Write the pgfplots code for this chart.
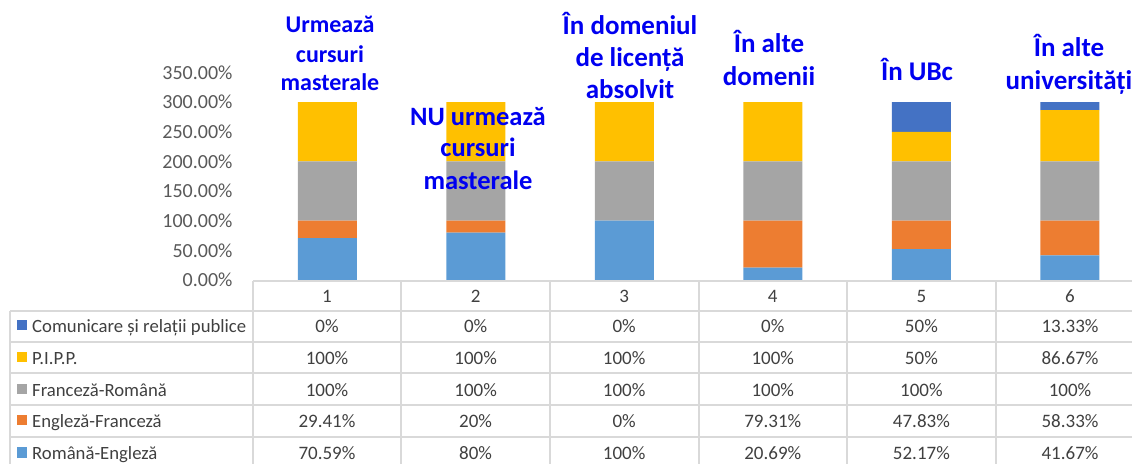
\documentclass[border=0pt]{standalone}
\usepackage{fontspec}
\setmainfont{Carlito}
\usepackage{pgfplots}
\pgfplotsset{compat=1.18}
\definecolor{cRE}{HTML}{5B9BD5}
\definecolor{cEF}{HTML}{ED7D31}
\definecolor{cFR}{HTML}{A5A5A5}
\definecolor{cPIPP}{HTML}{FFC000}
\definecolor{cCOM}{HTML}{4472C4}
\definecolor{annblue}{RGB}{0,0,240}
\definecolor{gridc}{HTML}{D9D9D9}
\definecolor{txt}{HTML}{404040}
\definecolor{tickc}{HTML}{595959}
\newcommand\tabfont{\fontsize{19}{22}\selectfont}
\newcommand\annfont[1]{\fontsize{#1}{#1}\selectfont\bfseries}

\begin{document}
\begin{tikzpicture}
\useasboundingbox (0pt,0pt) rectangle (1132pt,463pt);

\begin{axis}[
  at={(253pt,183pt)}, anchor=south west,
  scale only axis, width=891pt, height=207.5pt,
  xmin=0.5, xmax=6.5, ymin=0, ymax=350,
  ybar stacked, bar width=59pt,
  axis line style={draw=none},
  xtick=\empty,
  ytick={0,50,...,350},
  major tick length=0pt,
  yticklabel={\pgfmathprintnumber[assume math mode=true,fixed,fixed zerofill,precision=2]{\tick}\%},
  yticklabel style={font=\fontsize{20}{22}\selectfont, text=tickc, anchor=east, xshift=-17pt},
  clip=false,
]
% Română-Engleză
\addplot[fill=cRE, draw=none] coordinates {(1,70.59) (2,80) (3,100) (4,20.69) (5,52.17) (6,41.67)};
% Engleză-Franceză
\addplot[fill=cEF, draw=none] coordinates {(1,29.41) (2,20) (3,0) (4,79.31) (5,47.83) (6,58.33)};
% Franceză-Română
\addplot[fill=cFR, draw=none] coordinates {(1,100) (2,100) (3,100) (4,100) (5,100) (6,100)};
% P.I.P.P.
\addplot[fill=cPIPP, draw=none] coordinates {(1,100) (2,100) (3,100) (4,100) (5,50) (6,86.67)};
% Comunicare și relații publice
\addplot[fill=cCOM, draw=none] coordinates {(1,0) (2,0) (3,0) (4,0) (5,50) (6,13.33)};
\end{axis}

\begin{scope}[x=1pt,y=1pt]
% table grid
\begin{scope}[draw=gridc, line width=2pt]
  \draw (253,463-281) -- (1140,463-281);
  \foreach \yy in {311,342,373,405,437}
    \draw (10,463-\yy) -- (1140,463-\yy);
  \foreach \xx in {253,401,550,699,847,996}
    \draw (\xx,463-281) -- (\xx,-5);
  \draw (10,463-311) -- (10,-5);
\end{scope}

% header row
\foreach \i in {1,...,6}
  \node[anchor=base, font=\tabfont, text=txt, inner sep=0pt] at ({178.4+\i*148.6}, 463-303) {\i};

% table rows
\foreach \lab/\col/\vals/\yb in {
  Comunicare și relații publice/cCOM/{0\%,0\%,0\%,0\%,50\%,13.33\%}/333,
  P.I.P.P./cPIPP/{100\%,100\%,100\%,100\%,50\%,86.67\%}/365,
  Franceză-Română/cFR/{100\%,100\%,100\%,100\%,100\%,100\%}/397,
  Engleză-Franceză/cEF/{29.41\%,20\%,0\%,79.31\%,47.83\%,58.33\%}/428,
  Română-Engleză/cRE/{70.59\%,80\%,100\%,20.69\%,52.17\%,41.67\%}/460}{
  \fill[\col] (17,463-\yb+2.5) rectangle (27,463-\yb+12.5);
  \node[anchor=base west, font=\fontsize{18.7}{22}\selectfont, text=txt, inner sep=0pt] at (32,463-\yb) {\lab};
  \foreach \v [count=\i] in \vals
    \node[anchor=base, font=\tabfont, text=txt, inner sep=0pt] at ({178.4+\i*148.6}, 463-\yb) {\v};
}

% annotations
\begin{scope}[every node/.style={anchor=base, inner sep=0pt, text=annblue}]
  \node[font=\annfont{24}] at (330,463-33) {Urmează};
  \node[font=\annfont{24}] at (330,463-63) {cursuri};
  \node[font=\annfont{24}] at (330,463-91) {masterale};
  \node[font=\annfont{26.5}] at (478,463-126) {NU urmează};
  \node[font=\annfont{26.5}] at (478,463-157) {cursuri};
  \node[font=\annfont{26.5}] at (478,463-190) {masterale};
  \node[font=\annfont{27}] at (630,463-35) {În domeniul};
  \node[font=\annfont{27}] at (630,463-67) {de licență};
  \node[font=\annfont{27}] at (630,463-99) {absolvit};
  \node[font=\annfont{27}] at (769,463-53) {În alte};
  \node[font=\annfont{27}] at (769,463-86) {domenii};
  \node[font=\annfont{27}] at (917,463-81) {În UBc};
  \node[font=\annfont{27}] at (1069,463-57) {În alte};
  \node[font=\annfont{27}] at (1069,463-90) {universități};
\end{scope}
\end{scope}
\end{tikzpicture}
\end{document}
